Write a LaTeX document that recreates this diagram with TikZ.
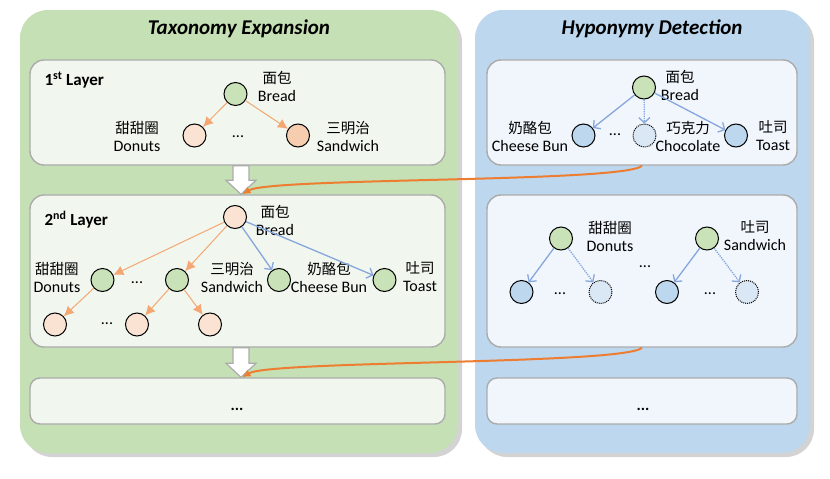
\documentclass[tikz,border=0pt]{standalone}
\usepackage{fontspec}
\setmainfont{Carlito}
\newfontfamily\cjk{Noto Sans CJK SC}
\usetikzlibrary{arrows.meta,calc,shadows}

\definecolor{panelgreen}{HTML}{C5E0B4}
\definecolor{panelblue}{HTML}{BDD7EE}
\definecolor{boxgreen}{HTML}{F1F7EE}
\definecolor{boxblue}{HTML}{F0F6FC}
\definecolor{boxline}{HTML}{ABABAB}
\definecolor{nodegreen}{HTML}{C9E2B8}
\definecolor{nodepeach}{HTML}{FBE3D3}
\definecolor{nodepeachdark}{HTML}{F7CDB0}
\definecolor{nodeblue}{HTML}{BDD7EE}
\definecolor{nodeghost}{HTML}{DAE8F6}
\definecolor{edgeorange}{HTML}{F4A772}
\definecolor{edgeblue}{HTML}{86A6DD}
\definecolor{linkorange}{HTML}{ED7D31}

\newcommand\zh[1]{{\cjk\fontsize{14.5}{18}\selectfont #1}}

\begin{document}
\begin{tikzpicture}[x=1pt, y=-1pt,
	panel/.style={rounded corners=28pt, drop shadow={shadow xshift=4pt, shadow yshift=-4pt, opacity=.35}},
	layerbox/.style={draw=boxline, line width=1.4pt, rounded corners=14pt, inner sep=0},
	heading/.style={font=\fontsize{21}{25}\selectfont\bfseries\itshape},
	layertag/.style={anchor=west, font=\fontsize{17}{20}\selectfont\bfseries},
	term/.style={circle, draw, line width=1pt, minimum size=23pt, inner sep=0},
	known/.style={term, fill=nodegreen},
	added/.style={term, fill=nodepeach},
	cand/.style={term, fill=nodeblue},
	ghost/.style={term, densely dotted, fill=nodeghost},
	lbl/.style={align=center, inner sep=0, font=\fontsize{16}{18}\selectfont},
	dots/.style={anchor=base, inner sep=0, font=\fontsize{16}{18}\selectfont},
	expand/.style={draw=edgeorange, line width=1pt, -{Latex[length=10pt, width=10pt]}},
	detect/.style={draw=edgeblue, line width=1.3pt, -{Straight Barb[length=5pt, width=11pt]}},
	guess/.style={detect, densely dotted},
	blockarrow/.style={draw=boxline, line width=1.2pt, fill=white},
	carry/.style={draw=linkorange, line width=2pt, -{Latex[length=8pt, width=8pt]}}
]
	\useasboundingbox (0,0) rectangle (830,479);
	% two panels
	\fill[panel, fill=panelgreen] (20,10) rectangle (458,453);
	\fill[panel, fill=panelblue] (475,10) rectangle (810,453);
	\node[heading] (tetitle) at (239,29) {Taxonomy Expansion};
	\node[heading] (hdtitle) at (652,29) {Hyponymy Detection};

	% layer boxes
	\node[layerbox, fill=boxgreen, minimum width=415, minimum height=105] (l1) at (237.5,112.5) {};
	\node[layerbox, fill=boxgreen, minimum width=415, minimum height=152] (l2) at (237.5,271) {};
	\node[layerbox, fill=boxgreen, minimum width=415, minimum height=46, rounded corners=10pt] (l3) at (237.5,401) {};
	\node[layerbox, fill=boxblue, minimum width=310, minimum height=105] (r1) at (642,112.5) {};
	\node[layerbox, fill=boxblue, minimum width=310, minimum height=152] (r2) at (642,271) {};
	\node[layerbox, fill=boxblue, minimum width=310, minimum height=46, rounded corners=10pt] (r3) at (642,401) {};
	\node[layertag] (l1tag) at (41,80) {1\textsuperscript{st} Layer};
	\node[layertag] (l2tag) at (41,220) {2\textsuperscript{nd} Layer};
	\node[dots, font=\fontsize{16}{18}\selectfont\bfseries] (l3dots) at (237,410) {...};
	\node[dots, font=\fontsize{16}{18}\selectfont\bfseries] (r3dots) at (643,410) {...};

	% first layer
	\node[known] (bread1) at (235.5,94) {};
	\node[added] (donuts1) at (194.5,135.5) {};
	\node[term, fill=nodepeachdark] (sandwich1) at (298,135.5) {};
	\node[lbl] (bread1lbl) at (277,86) {\zh{面包}\\Bread};
	\node[lbl] (donuts1lbl) at (137,136) {\zh{甜甜圈}\\Donuts};
	\node[lbl] (sandwich1lbl) at (348,136) {\zh{三明治}\\Sandwich};
	\node[dots] (l1dots) at (238,137) {...};
	\draw[expand] (bread1) -- (donuts1);
	\draw[expand] (bread1) -- (sandwich1);

	% detection on the first layer
	\node[known] (hbread1) at (644,87.5) {};
	\node[cand] (hcheese1) at (583.5,135.5) {};
	\node[ghost] (hchoc1) at (644.5,135.5) {};
	\node[cand] (htoast1) at (736,135.5) {};
	\node[lbl] (hbread1lbl) at (680,85.5) {\zh{面包}\\Bread};
	\node[lbl] (hcheese1lbl) at (530,136) {\zh{奶酪包}\\Cheese Bun};
	\node[lbl] (hchoc1lbl) at (688,136) {\zh{巧克力}\\Chocolate};
	\node[lbl] (htoast1lbl) at (773,136) {\zh{吐司}\\Toast};
	\node[dots] (r1dots) at (615,135) {...};
	\draw[detect] (hbread1) -- (hcheese1);
	\draw[guess] (hbread1) -- (hchoc1);
	\draw[detect] (hbread1) -- (htoast1);

	% second layer
	\node[added] (bread2) at (235,217) {};
	\node[known] (donuts2) at (102.5,280) {};
	\node[known] (sandwich2) at (177,280) {};
	\node[known] (cheese2) at (279,280) {};
	\node[known] (toast2) at (384.5,280) {};
	\node[added] (leafa) at (55,324.5) {};
	\node[added] (leafb) at (137,324.5) {};
	\node[added] (leafc) at (210,324.5) {};
	\node[lbl] (bread2lbl) at (275,220) {\zh{面包}\\Bread};
	\node[lbl] (donuts2lbl) at (57,277) {\zh{甜甜圈}\\Donuts};
	\node[lbl] (sandwich2lbl) at (232,277) {\zh{三明治}\\Sandwich};
	\node[lbl] (cheese2lbl) at (329,277) {\zh{奶酪包}\\Cheese Bun};
	\node[lbl] (toast2lbl) at (420,277) {\zh{吐司}\\Toast};
	\node[dots] (l2dotsa) at (137,283) {...};
	\node[dots] (l2dotsb) at (107,324) {...};
	\draw[expand] (bread2) -- (donuts2);
	\draw[expand] (bread2) -- (sandwich2);
	\draw[detect] (bread2) -- (cheese2);
	\draw[detect] (bread2) -- (toast2);
	\draw[expand] (donuts2) -- (leafa);
	\draw[expand] (sandwich2) -- (leafb);
	\draw[expand] (sandwich2) -- (leafc);

	% detection on the second layer
	\node[known] (hdonuts2) at (561,238.5) {};
	\node[known] (htoast2) at (707,238.5) {};
	\node[cand] (hkida) at (521.5,292) {};
	\node[ghost] (hghosta) at (600.5,292) {};
	\node[cand] (hkidb) at (667,292) {};
	\node[ghost] (hghostb) at (747,292) {};
	\node[lbl] (hdonuts2lbl) at (610,236) {\zh{甜甜圈}\\Donuts};
	\node[lbl] (htoast2lbl) at (755,236) {\zh{吐司}\\Sandwich};
	\node[dots] (r2dotsa) at (560,294) {...};
	\node[dots] (r2dotsb) at (710,294) {...};
	\node[dots] (r2dotsc) at (645,267) {...};
	\draw[detect] (hdonuts2) -- (hkida);
	\draw[guess] (hdonuts2) -- (hghosta);
	\draw[detect] (htoast2) -- (hkidb);
	\draw[guess] (htoast2) -- (hghostb);

	% from one layer to the next
	\foreach \a/\b in {l1/l2, l2/l3}
		\draw[blockarrow] let \p1=([xshift=3.5pt]\a.south), \p2=([xshift=3.5pt]\b.north) in
			(\x1-8pt,\y1) -- (\x1+8pt,\y1) -- (\x1+8pt,\y2+14pt) -- (\x1+15pt,\y2+14pt) -- (\x1,\y2)
			-- (\x1-15pt,\y2+14pt) -- (\x1-8pt,\y2+14pt) -- cycle;
	\draw[carry] (r1.south) .. controls +(-17,17) and +(27,-17) .. ([xshift=5pt]l2.north);
	\draw[carry] (r2.south) .. controls +(-17,17) and +(27,-17) .. ([xshift=5pt]l3.north);
\end{tikzpicture}
\end{document}
